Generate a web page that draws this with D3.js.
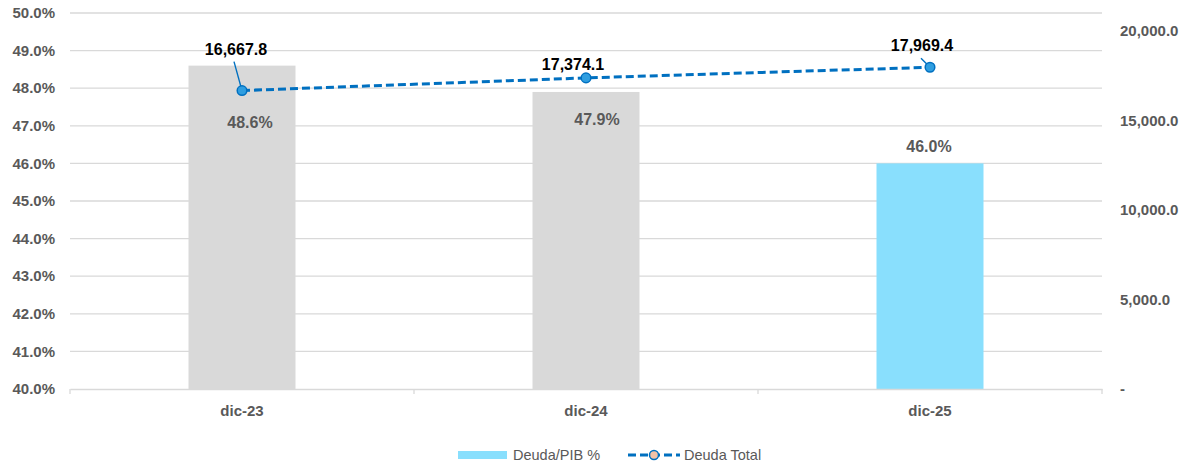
<!DOCTYPE html>
<html>
<head>
<meta charset="utf-8">
<script src="https://cdn.jsdelivr.net/npm/d3@7"></script>
<style>
  html, body { margin: 0; padding: 0; background: #fff; }
  svg { display: block; font-family: "Liberation Sans", Arial, sans-serif; }
</style>
</head>
<body>
<svg id="chart" width="1192" height="464"></svg>
<script>
// Categories and series
const categories = ["dic-23", "dic-24", "dic-25"];
const deudaPib = [48.6, 47.9, 46.0];           // Deuda/PIB %
const deudaTotal = [16667.8, 17374.1, 17969.4]; // Deuda Total
const leftTicks = [40, 41, 42, 43, 44, 45, 46, 47, 48, 49, 50];
const rightTicks = [0, 5000, 10000, 15000, 20000];

const svg = d3.select("#chart");
const x0 = 70, x1 = 1102, yTop = 13, yBot = 389;

const x = d3.scaleBand().domain(categories).range([x0, x1]).paddingInner(0).paddingOuter(0);
const yL = d3.scaleLinear().domain([40, 50]).range([yBot, yTop]);
const yR = d3.scaleLinear().domain([0, 21000]).range([yBot, yTop]);

const gray = "#595959";
const axisFont = 15;
const labelFont = 16;

// Horizontal gridlines
svg.append("g")
  .selectAll("line").data(leftTicks.slice(1)).join("line")
  .attr("x1", x0).attr("x2", x1)
  .attr("y1", d => yL(d)).attr("y2", d => yL(d))
  .attr("stroke", "#d9d9d9").attr("stroke-width", 1.3);

// Left axis labels
const fmtPct = d3.format(".1f");
svg.append("g")
  .selectAll("text").data(leftTicks).join("text")
  .attr("x", 55).attr("y", d => yL(d)).attr("dy", "0.35em")
  .attr("text-anchor", "end")
  .attr("font-size", axisFont).attr("font-weight", "bold").attr("fill", gray)
  .text(d => fmtPct(d) + "%");

// Right axis labels
const fmtNum = d3.format(",.1f");
svg.append("g")
  .selectAll("text").data(rightTicks).join("text")
  .attr("x", 1120).attr("y", d => yR(d)).attr("dy", "0.35em")
  .attr("text-anchor", "start")
  .attr("font-size", axisFont).attr("font-weight", "bold").attr("fill", gray)
  .text(d => d === 0 ? "-" : fmtNum(d));

// Bars
const barW = 107;
const barColor = (d, i) => i === categories.length - 1 ? "#89dffd" : "#d9d9d9";
svg.append("g")
  .selectAll("rect").data(deudaPib).join("rect")
  .attr("x", (d, i) => x(categories[i]) + x.bandwidth() / 2 - barW / 2)
  .attr("width", barW)
  .attr("y", d => yL(d))
  .attr("height", d => yBot - yL(d))
  .attr("fill", barColor);

// Category axis
const xAxis = d3.axisBottom(x).tickSize(0).tickPadding(16);
const gx = svg.append("g").attr("transform", `translate(0,${yBot})`).call(xAxis);
gx.select(".domain").attr("stroke", "#d9d9d9").attr("stroke-width", 1.3);
gx.selectAll("text").attr("font-size", axisFont).attr("font-weight", "bold").attr("fill", gray)
  .attr("font-family", "'Liberation Sans', Arial, sans-serif");
// Category boundary tick marks
const bounds = [x0, ...categories.slice(1).map(c => x(c)), x1];
svg.append("g").selectAll("line").data(bounds).join("line")
  .attr("x1", d => d).attr("x2", d => d)
  .attr("y1", yBot).attr("y2", yBot + 5)
  .attr("stroke", "#d9d9d9").attr("stroke-width", 1.3);

// Bar value labels
const barLabelOffset = [[8, 57], [11, 27], [-1, -17]];
svg.append("g")
  .selectAll("text").data(deudaPib).join("text")
  .attr("x", (d, i) => x(categories[i]) + x.bandwidth() / 2 + barLabelOffset[i][0])
  .attr("y", (d, i) => yL(d) + barLabelOffset[i][1])
  .attr("dy", "0.35em").attr("text-anchor", "middle")
  .attr("font-size", labelFont).attr("font-weight", "bold").attr("fill", gray)
  .text(d => fmtPct(d) + "%");

// Line series
const cx = i => x(categories[i]) + x.bandwidth() / 2;
const line = d3.line().x((d, i) => cx(i)).y(d => yR(d));
svg.append("path")
  .datum(deudaTotal)
  .attr("d", line)
  .attr("fill", "none")
  .attr("stroke", "#0070c0")
  .attr("stroke-width", 3)
  .attr("stroke-dasharray", "8,4");

// Leader lines from labels to points
const pts = deudaTotal.map((v, i) => ({ v, i }));
const leaderStart = [[-8, -29], null, [-9, -9]];
svg.append("g").selectAll("line").data(pts.filter(p => leaderStart[p.i])).join("line")
  .attr("x1", p => cx(p.i) + leaderStart[p.i][0])
  .attr("y1", p => yR(p.v) + leaderStart[p.i][1])
  .attr("x2", p => cx(p.i))
  .attr("y2", p => yR(p.v))
  .attr("stroke", "#0070c0").attr("stroke-width", 1.4);

svg.append("g")
  .selectAll("circle").data(pts).join("circle")
  .attr("cx", p => cx(p.i)).attr("cy", p => yR(p.v)).attr("r", 4.8)
  .attr("fill", "#2f9ee0").attr("stroke", "#0070c0").attr("stroke-width", 1.5);

// Line value labels
const lineLabelPos = [[-6, -41], [-13, -14], [-8, -22]];
svg.append("g")
  .selectAll("text").data(pts).join("text")
  .attr("x", p => cx(p.i) + lineLabelPos[p.i][0])
  .attr("y", p => yR(p.v) + lineLabelPos[p.i][1])
  .attr("dy", "0.35em").attr("text-anchor", "middle")
  .attr("font-size", labelFont).attr("font-weight", "bold").attr("fill", "#000")
  .text(p => fmtNum(p.v));

// Legend
const lg = svg.append("g");
lg.append("rect").attr("x", 458).attr("y", 451).attr("width", 49).attr("height", 8).attr("fill", "#89dffd");
lg.append("text").attr("x", 513).attr("y", 455).attr("dy", "0.35em")
  .attr("font-size", 14.5).attr("fill", gray).text("Deuda/PIB %");
lg.append("line").attr("x1", 628).attr("x2", 680).attr("y1", 455).attr("y2", 455)
  .attr("stroke", "#0070c0").attr("stroke-width", 3).attr("stroke-dasharray", "8,4");
lg.append("circle").attr("cx", 654).attr("cy", 455).attr("r", 4.5)
  .attr("fill", "#f4c3a8").attr("stroke", "#0070c0").attr("stroke-width", 1.5);
lg.append("text").attr("x", 684).attr("y", 455).attr("dy", "0.35em")
  .attr("font-size", 14.5).attr("fill", gray).text("Deuda Total");
</script>
</body>
</html>
